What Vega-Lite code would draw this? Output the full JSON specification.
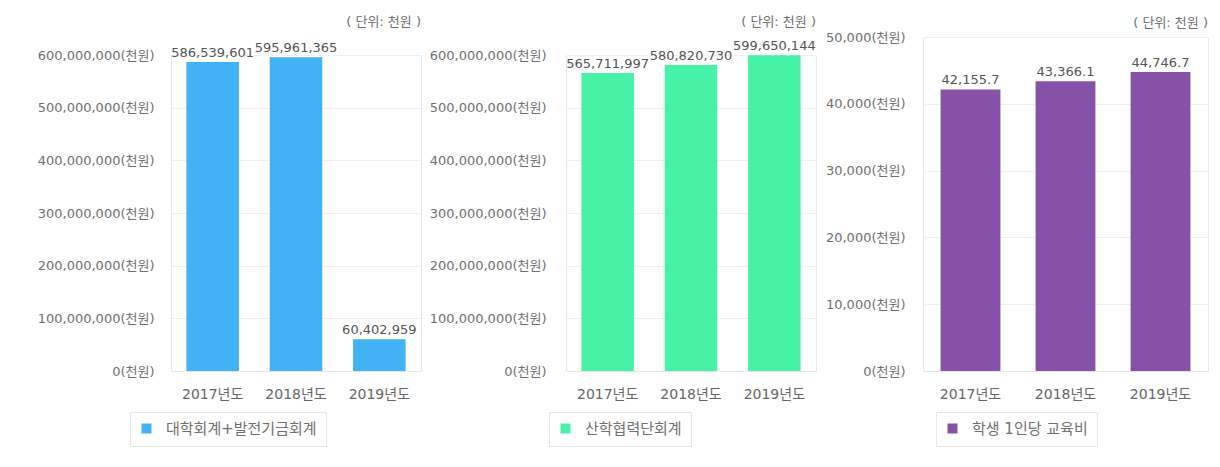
{
  "$schema": "https://vega.github.io/schema/vega-lite/v6.json",
  "background": "white",
  "padding": {"left": 37, "top": 16, "right": 5, "bottom": 5},
  "config": {
    "font": "DejaVu Sans, Noto Sans CJK KR",
    "view": {"stroke": "#e6e6e6"},
    "axis": {"labelColor": "#707070", "labelFontSize": 13, "ticks": false, "domain": false, "gridColor": "#f0f0f0", "title": null},
    "axisX": {"labelFontSize": 14, "labelColor": "#666666", "domain": true, "domainColor": "#e6e6e6", "labelAngle": 0, "labelPadding": 16, "grid": false},
    "title": {"fontSize": 13, "fontWeight": "normal", "color": "#707070", "anchor": "end", "frame": "group"},
    "legend": {"orient": "none", "strokeColor": "#e6e6e6", "fillColor": "white", "padding": 9, "symbolType": "square", "symbolSize": 100, "symbolStrokeWidth": 0, "labelFontSize": 15, "labelColor": "#707070", "labelOffset": 12, "title": null},
    "text": {"fontSize": 13, "color": "#555555"}
  },
  "spacing": 8,
  "resolve": {"scale": {"color": "independent", "y": "independent"}, "legend": {"color": "independent"}},
  "hconcat": [
    {
      "width": 250, "height": 334,
      "view": {"stroke": null},
      "title": {"text": "( 단위: 천원 )", "offset": 8},
      "data": {"values": [
        {"year": "2017년도", "value": 586539601, "series": "대학회계+발전기금회계"},
        {"year": "2018년도", "value": 595961365, "series": "대학회계+발전기금회계"},
        {"year": "2019년도", "value": 60402959, "series": "대학회계+발전기금회계"}
      ]},
      "encoding": {
        "x": {"field": "year", "type": "nominal", "scale": {"paddingInner": 0.37}}
      },
      "layer": [
        {"mark": {"type": "bar"}, "encoding": {
          "y": {"field": "value", "type": "quantitative", "scale": {"domain": [0, 600000000], "range": [334, 18], "nice": false}, "axis": {"values": [0, 100000000, 200000000, 300000000, 400000000, 500000000, 600000000], "labelExpr": "format(datum.value, ',') + '(천원)'", "labelPadding": 17, "domain": true, "domainColor": "#e6e6e6"}},
          "color": {"field": "series", "type": "nominal", "scale": {"range": ["#41b2f4"]}, "legend": {"legendX": -41, "legendY": 375}}}},
        {"mark": {"type": "text", "baseline": "alphabetic", "dy": -5}, "encoding": {
          "y": {"field": "value", "type": "quantitative", "scale": {"domain": [0, 600000000], "range": [334, 18], "nice": false}, "axis": {"orient": "right", "labels": false, "grid": false, "domain": true, "domainColor": "#e6e6e6"}},
          "text": {"field": "value", "type": "quantitative", "format": ","}}}
      ],
      "resolve": {"axis": {"y": "independent"}}
    },
    {
      "width": 250, "height": 334,
      "view": {"stroke": null},
      "title": {"text": "( 단위: 천원 )", "offset": 8},
      "data": {"values": [
        {"year": "2017년도", "value": 565711997, "series": "산학협력단회계"},
        {"year": "2018년도", "value": 580820730, "series": "산학협력단회계"},
        {"year": "2019년도", "value": 599650144, "series": "산학협력단회계"}
      ]},
      "encoding": {
        "x": {"field": "year", "type": "nominal", "scale": {"paddingInner": 0.37}}
      },
      "layer": [
        {"mark": {"type": "bar"}, "encoding": {
          "y": {"field": "value", "type": "quantitative", "scale": {"domain": [0, 600000000], "range": [334, 18], "nice": false}, "axis": {"values": [0, 100000000, 200000000, 300000000, 400000000, 500000000, 600000000], "labelExpr": "format(datum.value, ',') + '(천원)'", "labelPadding": 20, "domain": true, "domainColor": "#e6e6e6"}},
          "color": {"field": "series", "type": "nominal", "scale": {"range": ["#47f2a7"]}, "legend": {"legendX": -17, "legendY": 375}}}},
        {"mark": {"type": "text", "baseline": "alphabetic", "dy": -5}, "encoding": {
          "y": {"field": "value", "type": "quantitative", "scale": {"domain": [0, 600000000], "range": [334, 18], "nice": false}, "axis": {"orient": "right", "labels": false, "grid": false, "domain": true, "domainColor": "#e6e6e6"}},
          "text": {"field": "value", "type": "quantitative", "format": ","}}}
      ],
      "resolve": {"axis": {"y": "independent"}}
    },
    {
      "width": 285, "height": 334,
      "title": {"text": "( 단위: 천원 )", "offset": 1},
      "data": {"values": [
        {"year": "2017년도", "value": 42155.7, "series": "학생 1인당 교육비"},
        {"year": "2018년도", "value": 43366.1, "series": "학생 1인당 교육비"},
        {"year": "2019년도", "value": 44746.7, "series": "학생 1인당 교육비"}
      ]},
      "encoding": {
        "x": {"field": "year", "type": "nominal", "scale": {"paddingInner": 0.37}},
        "y": {"field": "value", "type": "quantitative", "scale": {"domain": [0, 50000], "nice": false}, "axis": {"values": [0, 10000, 20000, 30000, 40000, 50000], "labelExpr": "format(datum.value, ',') + '(천원)'", "labelPadding": 18}}
      },
      "layer": [
        {"mark": {"type": "bar"}, "encoding": {"color": {"field": "series", "type": "nominal", "scale": {"range": ["#8552a8"]}, "legend": {"legendX": 13, "legendY": 375}}}},
        {"mark": {"type": "text", "baseline": "alphabetic", "dy": -5}, "encoding": {"text": {"field": "value", "type": "quantitative", "format": ",.1f"}}}
      ]
    }
  ]
}
